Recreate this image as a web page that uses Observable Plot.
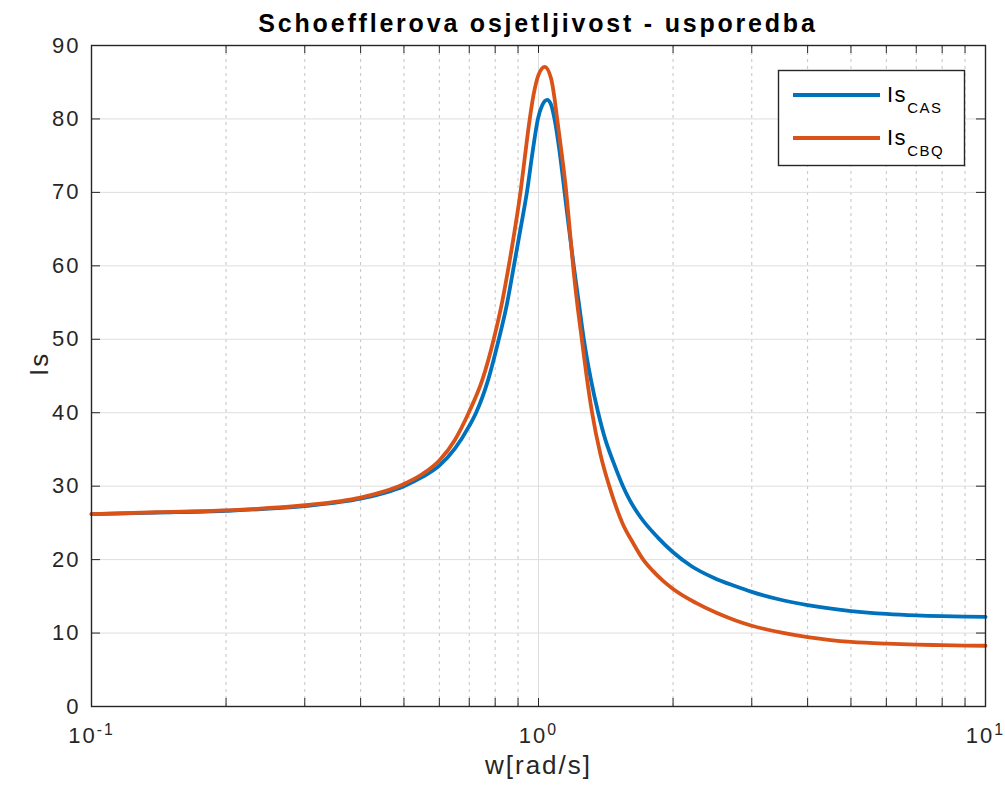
<!DOCTYPE html>
<html>
<head>
<meta charset="utf-8">
<script src="https://cdn.jsdelivr.net/npm/d3@7"></script>
<script src="https://cdn.jsdelivr.net/npm/@observablehq/plot@0.6"></script>
<style>
  body { margin: 0; background: #fff; font-family: "Liberation Sans", Arial, sans-serif; }
  #wrap { position: relative; width: 1005px; height: 796px; }
  #title { position: relative; z-index: 2; height: 30px; box-sizing: border-box; padding-top: 11px; margin-left: 91px; width: 894px;
           text-align: center; font-weight: bold; font-size: 25px; line-height: 25px; letter-spacing: 2.8px; color: #000; white-space: nowrap; overflow: visible; }
  #chart svg { background: transparent !important; }
</style>
</head>
<body>
<div id="wrap">
  <div id="title"></div>
  <div id="chart"></div>
</div>
<script>
// ---- data ----
const seriesNames = ["CAS", "CBQ"];
const seriesColors = ["#0072BD", "#D95319"];

const wCAS  = [0.1, 0.14, 0.2, 0.3, 0.4, 0.45, 0.5, 0.55, 0.6, 0.65, 0.7, 0.725, 0.77, 0.815, 0.85, 0.881, 0.91, 0.943, 0.97, 0.997, 1.02, 1.046, 1.066, 1.086, 1.115, 1.143, 1.17, 1.199, 1.23, 1.263, 1.31, 1.36, 1.41, 1.47, 1.545, 1.6, 1.69, 1.85, 2.0, 2.2, 2.47, 2.75, 3, 3.5, 4, 5, 6, 7, 8, 9, 10];
const isCAS = [26.2, 26.4, 26.65, 27.3, 28.3, 29.05, 30.0, 31.25, 32.8, 35.1, 38.2, 40.0, 44.3, 50, 54.8, 60, 64.8, 70.2, 75.5, 80, 81.9, 82.6, 82.0, 80, 75.5, 70.2, 65.1, 60, 55.1, 50, 44.5, 40, 36.4, 33.3, 30, 28.1, 25.8, 23.0, 21.0, 19.1, 17.5, 16.4, 15.6, 14.5, 13.8, 13.0, 12.6, 12.4, 12.3, 12.25, 12.2];

const wCBQ  = [0.1, 0.14, 0.2, 0.3, 0.4, 0.45, 0.5, 0.55, 0.6, 0.65, 0.698, 0.75, 0.794, 0.83, 0.858, 0.885, 0.912, 0.93, 0.951, 0.975, 1.0, 1.033, 1.067, 1.085, 1.101, 1.128, 1.153, 1.172, 1.195, 1.22, 1.25, 1.283, 1.318, 1.375, 1.44, 1.54, 1.63, 1.715, 1.8, 1.9, 2.0, 2.25, 2.5, 2.75, 3, 3.5, 4, 4.5, 5, 6, 7, 8, 9, 10];
const isCBQ = [26.2, 26.45, 26.7, 27.4, 28.45, 29.25, 30.3, 31.65, 33.5, 36.3, 40, 44.6, 50, 55.2, 60, 64.9, 70.2, 74.3, 79.0, 83.3, 86.0, 87.1, 85.5, 83.0, 80, 75.1, 70.2, 65.6, 60, 55.0, 50, 44.7, 40, 34.4, 30, 25, 22.2, 20, 18.5, 17.1, 16.0, 14.1, 12.75, 11.75, 11.0, 10.05, 9.45, 9.05, 8.8, 8.55, 8.42, 8.35, 8.3, 8.27];

const xTicks = [0.1, 1, 10];
const xMinor = [0.2, 0.3, 0.4, 0.5, 0.6, 0.7, 0.8, 0.9, 2, 3, 4, 5, 6, 7, 8, 9];
const yTicks = [0, 10, 20, 30, 40, 50, 60, 70, 80, 90];
const titleText = "Schoefflerova osjetljivost - usporedba";
const xLabel = "w[rad/s]";
const yLabel = "Is";

// ---- build table ----
const lineData = [];
wCAS.forEach((w, i) => lineData.push({ w, v: isCAS[i], s: seriesNames[0] }));
wCBQ.forEach((w, i) => lineData.push({ w, v: isCBQ[i], s: seriesNames[1] }));

const W = 1005, H = 766;
const mL = 91, mR = 20, mT = 15, mB = 90;
const plotW = W - mL - mR, plotH = H - mT - mB;
const axisColor = "#262626";
const allXTicks = xTicks.concat(xMinor);
const font = "'Liberation Sans', Arial, sans-serif";

const chart = Plot.plot({
  width: W, height: H,
  marginLeft: mL, marginRight: mR, marginTop: mT, marginBottom: mB,
  style: { fontFamily: font, fontSize: "22px", color: axisColor, background: "transparent", letterSpacing: "2px", overflow: "visible" },
  x: { type: "log", domain: [0.1, 10], label: null },
  y: { domain: [0, 90], label: null },
  color: { domain: seriesNames, range: seriesColors },
  marks: [
    Plot.ruleX(xMinor, { x: d => d, stroke: "#c4c4c4", strokeDasharray: "3,4", strokeWidth: 1 }),
    Plot.ruleY(yTicks.filter(v => v > 0 && v < 90), { y: d => d, stroke: "#dedede", strokeWidth: 1 }),
    Plot.ruleX([1], { x: d => d, stroke: "#dedede", strokeWidth: 1 }),
    Plot.line(lineData, { x: "w", y: "v", z: "s", stroke: "s", strokeWidth: 3.8, curve: "monotone-x" }),
    Plot.tickX(allXTicks, { x: d => d, insetTop: plotH - 8, stroke: axisColor }),
    Plot.tickX(allXTicks, { x: d => d, insetBottom: plotH - 8, stroke: axisColor }),
    Plot.tickY(yTicks, { y: d => d, insetRight: plotW - 9, stroke: axisColor }),
    Plot.tickY(yTicks, { y: d => d, insetLeft: plotW - 9, stroke: axisColor }),
    Plot.frame({ stroke: axisColor, strokeWidth: 1.4 }),
    Plot.axisX({ ticks: xTicks, tickSize: 0, tickPadding: 21, tickFormat: d => "10^" + Math.round(Math.log10(d)) }),
    Plot.axisY({ ticks: yTicks, tickSize: 0, tickPadding: 11 }),
    Plot.text([yLabel], { text: d => d, frameAnchor: "left", dx: -52, rotate: -90, fontSize: 26, fill: axisColor }),
    Plot.text([xLabel], { text: d => d, frameAnchor: "bottom", dy: 67, fontSize: 26, fill: axisColor })
  ]
});

// superscript exponents on log tick labels
d3.select(chart).selectAll("text").each(function () {
  const t = this.textContent;
  if (/^10\^-?\d+$/.test(t)) {
    const e = t.slice(3);
    const sel = d3.select(this);
    sel.text("10");
    sel.append("tspan").attr("dy", "-0.5em").attr("font-size", "0.72em").text(e);
  }
});

// legend
const svg = d3.select(chart);
const top0 = 40; // legend box top in svg coords
const lg = svg.append("g").attr("font-family", font).attr("letter-spacing", "1.5px").attr("text-anchor", "start");
lg.append("rect").attr("x", 778.5).attr("y", top0 + 0.5).attr("width", 186).attr("height", 95)
  .attr("fill", "white").attr("stroke", axisColor).attr("stroke-width", 1.4);
seriesNames.forEach((name, i) => {
  const yy = top0 + 25 + i * 43;
  lg.append("line").attr("x1", 793).attr("x2", 880).attr("y1", yy).attr("y2", yy)
    .attr("stroke", seriesColors[i]).attr("stroke-width", 3.8);
  const t = lg.append("text").attr("x", 887).attr("y", yy + 7).attr("font-size", 22).attr("fill", "#000").attr("text-anchor", "start");
  t.append("tspan").text(yLabel);
  t.append("tspan").attr("dy", 11).attr("font-size", 15).text(name);
});

document.getElementById("title").textContent = titleText;
document.getElementById("chart").appendChild(chart);
</script>
</body>
</html>
